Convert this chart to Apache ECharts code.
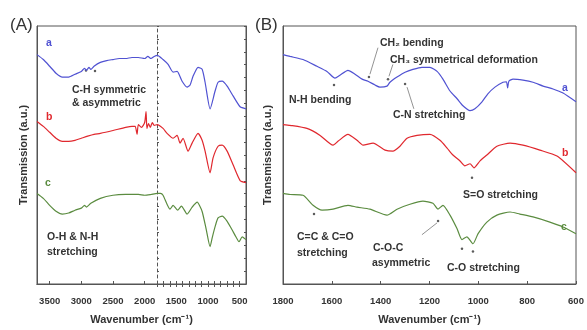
<!DOCTYPE html>
<html>
<head>
<meta charset="utf-8">
<script src="https://cdn.jsdelivr.net/npm/echarts@6/dist/echarts.min.js"></script>
<style>
html,body{margin:0;padding:0;background:#fff}
#main{width:587px;height:330px}
</style>
</head>
<body>
<div id="main"></div>
<script>
// tick labels
const ticksA = [3500, 3000, 2500, 2000, 1500, 1000, 500]
const minorTicksA = [3500, 3000, 2500, 2000, 1800, 1700, 1600, 1500, 1400, 1300, 1200, 1100, 1000, 900, 800, 700, 600, 500]
const ticksB = [1800, 1600, 1400, 1200, 1000, 800, 600]

// panel A spectra [wavenumber, transmission a.u.]
const aBlue = [[3700,88.9],[3600,87.0],[3500,84.4],[3400,81.7],[3300,80.2],[3200,80.2],[3100,81.3],[3000,82.4],[2950,83.6],[2920,82.8],[2880,84.0],[2850,83.2],[2800,84.4],[2700,85.9],[2600,86.6],[2500,87.0],[2400,87.4],[2300,87.4],[2200,87.8],[2100,87.8],[2000,87.4],[1950,88.2],[1900,87.4],[1850,88.2],[1800,88.6],
  [1710,87.0],[1630,85.1],[1551,82.1],[1488,82.4],[1409,78.6],[1330,76.3],[1283,77.1],[1236,80.5],[1157,84.0],[1093,83.2],[1046,78.2],[967,67.9],[888,74.8],[841,78.2],[777,78.6],[698,76.7],[604,72.9],[493,68.7],[400,67.9]]
const aRed = [[3700,63.0],[3600,61.1],[3500,58.8],[3400,56.5],[3300,55.3],[3200,55.3],[3100,55.7],[3000,56.5],[2900,57.3],[2800,58.0],[2700,58.4],[2500,59.5],[2300,60.7],[2200,61.1],[2150,61.1],[2120,58.0],[2100,61.8],[2050,60.7],[2000,62.6],[1978,66.8],[1965,60.3],[1940,62.2],[1910,60.7],[1880,62.6],[1850,61.5],[1800,61.8],
  [1710,60.3],[1646,58.4],[1551,56.5],[1488,57.6],[1441,54.6],[1394,56.5],[1315,51.5],[1251,54.6],[1157,58.4],[1093,55.7],[1046,51.5],[967,43.1],[920,48.9],[841,53.4],[777,53.8],[698,51.5],[604,46.2],[493,40.1],[400,39.3]]
const aGreen = [[3700,35.1],[3600,33.2],[3500,30.5],[3400,28.2],[3300,27.1],[3200,27.5],[3100,28.6],[3000,29.4],[2950,30.5],[2920,29.8],[2850,31.3],[2700,33.2],[2500,34.4],[2300,34.7],[2100,34.7],[2000,34.4],[1900,34.7],[1800,35.1],
  [1750,35.1],[1710,34.4],[1600,29.0],[1551,30.5],[1480,28.6],[1420,30.2],[1330,27.1],[1250,29.8],[1170,31.7],[1130,30.2],[1090,27.9],[1030,21.4],[967,14.5],[930,18.3],[880,22.9],[841,25.6],[777,26.3],[700,24.4],[620,21.0],[560,18.3],[510,16.4],[460,18.3],[400,17.2]]

// panel B spectra
const bBlue = [[1800,88.9],[1771,88.2],[1718,87.0],[1661,84.4],[1620,82.4],[1587,79.8],[1567,80.9],[1534,82.8],[1505,81.3],[1476,79.4],[1452,78.6],[1423,77.1],[1403,76.3],[1374,76.7],[1362,78.2],[1333,80.2],[1300,82.1],[1268,83.2],[1231,84.0],[1198,84.0],[1169,82.4],[1145,79.4],[1116,74.8],[1087,71.8],[1063,69.1],[1034,67.2],[1014,67.9],[985,70.6],[961,73.7],[932,76.3],[899,78.2],[885,78.4],[880,76.0],[875,78.6],[858,79.4],[817,79.0],[776,78.2],[735,76.7],[694,75.6],[653,74.0],[600,70.6]]
const bRed = [[1800,61.8],[1771,61.5],[1702,60.3],[1648,57.6],[1595,53.8],[1575,55.3],[1534,58.0],[1497,55.7],[1472,53.8],[1431,54.6],[1382,51.9],[1350,51.5],[1321,53.4],[1292,56.5],[1251,57.6],[1198,58.0],[1157,55.7],[1128,52.7],[1104,50.0],[1075,47.7],[1055,45.8],[1034,46.6],[1018,45.0],[993,47.7],[965,50.0],[924,53.4],[870,54.6],[817,53.8],[748,51.9],[678,49.6],[600,43.1]]
const bGreen = [[1800,35.1],[1771,34.7],[1718,34.4],[1677,30.5],[1640,28.6],[1595,29.0],[1534,30.5],[1497,29.8],[1444,29.0],[1374,26.7],[1333,29.0],[1280,30.9],[1227,32.1],[1186,31.3],[1165,29.0],[1145,30.5],[1116,26.7],[1087,21.4],[1067,17.2],[1047,18.3],[1022,15.6],[1001,19.5],[965,24.0],[924,26.7],[870,27.9],[830,27.1],[776,26.0],[707,24.0],[653,22.1],[600,19.5]]

// peak markers and leader lines
const aMarks = [[2926,82.8],[2784,82.6]]
const bMarks = [[1591,77.1],[1448,80.2],[1370,79.4],[1300,77.5],[1026,41.2],[1673,27.1],[1165,24.4],[1067,13.7],[1022,12.6]]
const bLeaders = [[[1411,91.6],[1444,81.3]],[[1350,85.1],[1366,80.5]],[[1292,76.3],[1264,67.9]],[[1231,19.1],[1169,23.7]]]

const blue = '#5052d2', red = '#e0282e', green = '#5b8c40'
const txt = '#333'
const font = 'Arial, "Liberation Sans", sans-serif'

let myChart = echarts.init(document.getElementById('main'))

function spec(data, color, xi, yi) {
    return {
        type: 'line', data: data, xAxisIndex: xi, yAxisIndex: yi,
        symbol: 'none', smooth: 0.2, silent: true,
        lineStyle: {color: color, width: 1.2}
    }
}

function note(text, x, y, color, size) {
    return {
        type: 'text', x: x, y: y, silent: true,
        style: {text: text, fill: color || txt, font: 'bold ' + (size || 10.5) + 'px ' + font, verticalAlign: 'middle'}
    }
}

let axisLbl = {fontSize: 9.5, fontWeight: 'bold', color: txt, fontFamily: font, margin: 12,
    formatter: function (v) { return String(v) }}
let nameStyle = {fontSize: 11, fontWeight: 'bold', color: txt, fontFamily: font}

let option = {
    animation: false,
    grid: [
        {left: 37, top: 26, width: 209, height: 263, show: true, borderColor: '#555', borderWidth: 1},
        {left: 283, top: 26, width: 293, height: 263, show: true, borderColor: '#555', borderWidth: 1}
    ],
    xAxis: [
        {
            gridIndex: 0, type: 'value', inverse: true, min: 400, max: 3700,
            axisLine: {lineStyle: {color: '#555'}},
            axisTick: {inside: true, length: 3, customValues: minorTicksA, lineStyle: {color: '#555'}},
            axisLabel: Object.assign({customValues: ticksA}, axisLbl),
            splitLine: {show: false},
            name: 'Wavenumber (cm⁻¹)', nameLocation: 'middle', nameGap: 30, nameTextStyle: nameStyle
        },
        {
            gridIndex: 1, type: 'value', inverse: true, min: 600, max: 1800, interval: 200,
            axisLine: {lineStyle: {color: '#555'}},
            axisTick: {inside: true, length: 3, customValues: ticksB, lineStyle: {color: '#555'}},
            axisLabel: Object.assign({customValues: ticksB}, axisLbl),
            splitLine: {show: false},
            name: 'Wavenumber (cm⁻¹)', nameLocation: 'middle', nameGap: 30, nameTextStyle: nameStyle
        },
        {
            gridIndex: 0, type: 'value', inverse: true, min: 400, max: 3700, position: 'top',
            axisLine: {lineStyle: {color: '#555'}},
            axisTick: {inside: true, length: 3, customValues: minorTicksA.slice(4), lineStyle: {color: '#555'}},
            axisLabel: {show: false}, splitLine: {show: false}
        }
    ],
    yAxis: [
        {
            gridIndex: 0, type: 'value', min: 0, max: 100,
            axisLine: {show: true, lineStyle: {color: '#555'}}, axisTick: {show: false},
            axisLabel: {show: false}, splitLine: {show: false},
            name: 'Transmission (a.u.)', nameLocation: 'middle', nameGap: 8, nameTextStyle: nameStyle
        },
        {
            gridIndex: 0, type: 'value', min: 0, max: 100, interval: 5, position: 'right',
            axisLine: {show: true, lineStyle: {color: '#555'}},
            axisTick: {inside: true, length: 2, lineStyle: {color: '#555'}},
            axisLabel: {show: false}, splitLine: {show: false}
        },
        {
            gridIndex: 0, type: 'value', min: 0, max: 100, interval: 5, position: 'left', offset: -120,
            axisLine: {show: true, lineStyle: {color: '#555', type: [3, 3]}},
            axisTick: {inside: true, length: 2, lineStyle: {color: '#555'}},
            axisLabel: {show: false}, splitLine: {show: false}
        },
        {
            gridIndex: 1, type: 'value', min: 0, max: 100,
            axisLine: {show: true, lineStyle: {color: '#555'}}, axisTick: {show: false},
            axisLabel: {show: false}, splitLine: {show: false},
            name: 'Transmission (a.u.)', nameLocation: 'middle', nameGap: 10, nameTextStyle: nameStyle
        }
    ],
    series: [
        spec(aBlue, blue, 0, 0),
        spec(aRed, red, 0, 0),
        spec(aGreen, green, 0, 0),
        spec(bBlue, blue, 1, 3),
        spec(bRed, red, 1, 3),
        spec(bGreen, green, 1, 3),
        {
            type: 'scatter', data: aMarks, xAxisIndex: 0, yAxisIndex: 0, silent: true,
            symbol: 'circle', symbolSize: 2.5, itemStyle: {color: '#333'}
        },
        {
            type: 'scatter', data: bMarks, xAxisIndex: 1, yAxisIndex: 3, silent: true,
            symbol: 'circle', symbolSize: 2.5, itemStyle: {color: '#333'},
            markLine: {
                silent: true, symbol: ['none', 'none'], label: {show: false},
                lineStyle: {color: '#777', width: 0.8, type: 'solid'},
                data: bLeaders.map(function (p) { return [{coord: p[0]}, {coord: p[1]}] })
            }
        }
    ],
    graphic: [
        note('(A)', 10, 25, '#333', 17),
        note('(B)', 255, 25, '#333', 17),
        note('a', 46, 43, blue),
        note('b', 46, 117, red),
        note('c', 45, 183, green),
        note('C-H symmetric', 72, 90),
        note('& asymmetric', 72, 103),
        note('O-H & N-H', 47, 237),
        note('stretching', 47, 252),
        note('CH₂ bending', 380, 43),
        note('CH₃ symmetrical deformation', 390, 60),
        note('N-H bending', 289, 100),
        note('C-N stretching', 393, 115),
        note('a', 562, 88, blue),
        note('b', 562, 153, red),
        note('c', 561, 227, green),
        note('S=O stretching', 463, 195),
        note('C=C & C=O', 297, 237),
        note('stretching', 297, 253),
        note('C-O-C', 373, 248),
        note('asymmetric', 372, 263),
        note('C-O stretching', 447, 268)
    ]
}
option.graphic[0].style.font = '17px ' + font
option.graphic[1].style.font = '17px ' + font
myChart.setOption(option)
</script>
</body>
</html>
